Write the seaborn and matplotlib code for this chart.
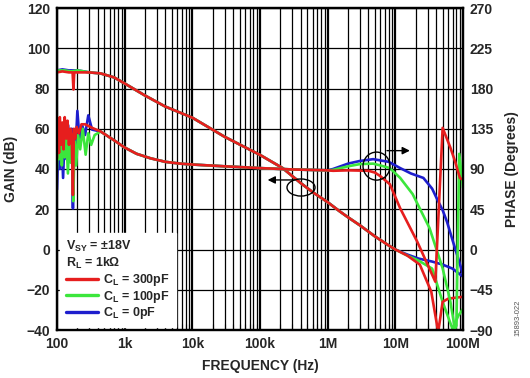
import matplotlib
matplotlib.use('Agg')
import pandas as pd
import matplotlib.pyplot as plt
import seaborn as sns
from matplotlib.lines import Line2D
from matplotlib.patches import Ellipse

# ---- data ----
# gain, part shared by the three loads (Hz, dB)
gain_f = [300, 440, 700, 1e3, 2e3, 4e3, 6.6e3, 1e4, 3e4, 1e5, 2.15e5, 4e5, 6e5,
          1e6, 1.5e6, 2e6, 3e6, 5e6, 8e6, 1e7]
gain_db = [88, 87.5, 85.5, 82.5, 76.5, 71, 68, 65.5, 56, 47, 40.5, 33, 28.5,
           23.5, 19, 16, 12, 6.5, 2, 0]

# low frequency start of gain
red_glo_f = [100, 120, 150, 170, 175, 180, 200, 250]
red_glo_db = [88, 88.5, 88, 88, 79.5, 88, 88, 88]
green_glo_f = [100, 130, 160, 200, 250]
green_glo_db = [89, 89, 88.5, 89, 88.5]
blue_glo_f = [100, 120, 150, 200, 250]
blue_glo_db = [89, 89.5, 89, 89, 88.5]

# high frequency tails of gain
red_ghi_f = [1.5e7, 2.3e7, 3.4e7, 4.3e7, 5e7, 6e7, 7.5e7, 1e8]
red_ghi_db = [-3, -7.5, -21, -41, -26, -24.5, -24, -23.5]
green_ghi_f = [1.5e7, 2.2e7, 3.5e7, 5e7, 7e7, 8.5e7, 1e8]
green_ghi_db = [-3, -5.5, -9.5, -26, -39.5, -33, -29.5]
blue_ghi_f = [1.5e7, 2.2e7, 3.5e7, 5e7, 7e7, 1e8]
blue_ghi_db = [-2.5, -4.5, -6, -7.5, -9.5, -13.5]

# phase, shared part (Hz, degrees)
phase_f = [440, 700, 1e3, 1.5e3, 2.4e3, 4e3, 6.6e3, 1e4, 3e4, 1e5, 3e5, 1e6]
phase_deg = [132, 122, 114, 107, 102, 98, 96, 95, 93, 91, 89.5, 88.5]

# noisy low frequency phase
red_plo_f = [100, 103, 107, 110, 115, 120, 125, 130, 137, 143, 150, 158, 165,
             172, 178, 185, 195, 210, 230, 260, 330]
red_plo_deg = [102, 146, 108, 148, 117, 142, 112, 148, 124, 144, 117, 135, 126,
               61, 135, 124, 137, 130, 140, 140, 136]
green_plo_f = [100, 104, 108, 113, 118, 124, 130, 137, 145, 152, 160, 167, 174,
               182, 192, 205, 220, 240, 265, 290, 320, 360, 400]
green_plo_deg = [90, 130, 101, 135, 94, 130, 103, 128, 85, 124, 97, 126, 54,
                 121, 94, 128, 112, 135, 106, 130, 117, 128, 130]
blue_plo_f = [100, 105, 110, 116, 123, 130, 138, 146, 155, 165, 172, 178, 188,
              200, 215, 235, 260, 290, 330]
blue_plo_deg = [67, 124, 90, 135, 80, 130, 101, 139, 108, 135, 46, 130, 112,
                155, 124, 139, 128, 150, 134]

# high frequency phase
red_phi_f = [1.2e6, 2e6, 4e6, 5e6, 6e6, 8.3e6, 1.18e7, 2.1e7, 3.9e7, 5e7, 6.5e7,
             7.6e7, 9e7, 1e8]
red_phi_deg = [88, 88.5, 88, 86, 82, 73, 46, 9, -36, 136, 114, 99, 80, 78]
green_phi_f = [1.2e6, 2e6, 3e6, 4.7e6, 6e6, 8.3e6, 1.18e7, 1.8e7, 3.2e7, 5e7,
               6.5e7, 7.6e7, 8e7, 8.8e7, 1e8]
green_phi_deg = [89, 93, 95.5, 96, 94, 91, 80, 62, 24, -21, -58, -89, -85, 107, 69]
blue_phi_f = [1.2e6, 2e6, 3e6, 4.7e6, 8e6, 1.18e7, 1.7e7, 2.6e7, 3.5e7, 4.1e7,
              5e7, 5.8e7, 7.1e7, 8.5e7, 1e8]
blue_phi_deg = [90, 96, 99, 101, 98, 91, 85, 80, 68, 57, 44, 31, 9, -10, -28]

loads = ['C$_{\\mathbf{L}}$ = 300pF', 'C$_{\\mathbf{L}}$ = 100pF', 'C$_{\\mathbf{L}}$ = 0pF']
colors = ['#e61e1e', '#3ce63c', '#1e1ecd']
x_ticks = [1e2, 1e3, 1e4, 1e5, 1e6, 1e7, 1e8]
x_labels = ['100', '1k', '10k', '100k', '1M', '10M', '100M']

# ---- style ----
sns.set_style('white')
plt.rcParams['font.family'] = ['Liberation Sans', 'DejaVu Sans']
plt.rcParams['font.weight'] = 'bold'
plt.rcParams['mathtext.fontset'] = 'custom'
plt.rcParams['mathtext.rm'] = 'Liberation Sans'
plt.rcParams['mathtext.bf'] = 'Liberation Sans:bold'

fig = plt.figure(figsize=(5.30, 3.78), dpi=100)
ax = fig.add_axes([57/530, 48/378, 406/530, 322/378])
ax2 = ax.twinx()

gain_parts = {
    'red': (red_glo_f, red_glo_db, red_ghi_f, red_ghi_db),
    'green': (green_glo_f, green_glo_db, green_ghi_f, green_ghi_db),
    'blue': (blue_glo_f, blue_glo_db, blue_ghi_f, blue_ghi_db),
}
phase_parts = {
    'red': (red_plo_f, red_plo_deg, red_phi_f, red_phi_deg),
    'green': (green_plo_f, green_plo_deg, green_phi_f, green_phi_deg),
    'blue': (blue_plo_f, blue_plo_deg, blue_phi_f, blue_phi_deg),
}
names = ['red', 'green', 'blue']

# blue first so red ends up on top
for name, col in zip(names[::-1], colors[::-1]):
    lo_f, lo_v, hi_f, hi_v = gain_parts[name]
    g = pd.DataFrame({'f': lo_f + gain_f + hi_f, 'v': lo_v + gain_db + hi_v})
    sns.lineplot(data=g, x='f', y='v', ax=ax, color=col, lw=1.9,
                 sort=False, estimator=None)
    lo_f, lo_v, hi_f, hi_v = phase_parts[name]
    p = pd.DataFrame({'f': lo_f + phase_f + hi_f, 'v': lo_v + phase_deg + hi_v})
    sns.lineplot(data=p, x='f', y='v', ax=ax2, color=col, lw=1.9,
                 sort=False, estimator=None)

ax.set_xscale('log')
ax.set_xlim(1e2, 1e8)
ax.set_ylim(-40, 120)
ax.set_yticks(range(-40, 121, 20))
ax2.set_ylim(-90, 270)
ax2.set_yticks(range(-90, 271, 45))
ax.set_xticks(x_ticks)
ax.set_xticklabels(x_labels)

ax.grid(True, which='major', axis='x', color='black', lw=1.6)
ax.grid(True, which='minor', axis='x', color='black', lw=0.9)
ax.grid(True, which='major', axis='y', color='black', lw=0.9)
ax.tick_params(axis='both', which='major', length=0, labelsize=10, pad=5)
ax.tick_params(axis='x', which='minor', direction='in', length=4, width=0.8,
               bottom=True, color='black')
ax2.tick_params(axis='y', length=0, labelsize=10, pad=5)
for a in (ax, ax2):
    for s in a.spines.values():
        s.set_color('black')
        s.set_linewidth(1.6)

ax.set_xlabel('FREQUENCY (Hz)', fontsize=10, fontweight='bold', labelpad=6)
ax.set_ylabel('GAIN (dB)', fontsize=10, fontweight='bold', labelpad=6)
ax2.set_ylabel('PHASE (Degrees)', fontsize=10, fontweight='bold', labelpad=8)

# legend box
handles = [Line2D([], [], color=c, lw=2.4) for c in colors]
leg = ax2.legend(handles, loads, loc='lower left', bbox_to_anchor=(0.0, 0.0),
                 borderaxespad=0.25, frameon=True, framealpha=1, facecolor='white',
                 edgecolor='white', fancybox=False, fontsize=9, handlelength=2.6,
                 handletextpad=0.4, labelspacing=0.05, borderpad=0.45,
                 title='V$_{\\mathbf{SY}}$ = \u00b118V\nR$_{\\mathbf{L}}$ = 1k\u03a9',
                 title_fontproperties={'size': 9, 'weight': 'bold'},
                 alignment='left')
leg.set_zorder(20)

# annotation circles and arrows
ax2.add_patch(Ellipse((0.601, 0.4425), 0.069, 0.053, transform=ax.transAxes,
                      fill=False, ec='black', lw=1.0, zorder=15))
ax2.annotate('', xy=(0.512, 0.466), xytext=(0.591, 0.466), xycoords='axes fraction',
             arrowprops=dict(arrowstyle='-|>', color='black', lw=1.0, mutation_scale=11))
ax2.add_patch(Ellipse((0.787, 0.509), 0.0665, 0.087, transform=ax.transAxes,
                      fill=False, ec='black', lw=1.0, zorder=15))
ax2.annotate('', xy=(0.876, 0.557), xytext=(0.806, 0.557), xycoords='axes fraction',
             arrowprops=dict(arrowstyle='-|>', color='black', lw=1.0, mutation_scale=11))

fig.text(0.978, 0.16, '15893-022', rotation=90, fontsize=5.5, color='#555555',
         fontweight='normal', ha='center', va='center')

fig.savefig('out.png', dpi=100)
